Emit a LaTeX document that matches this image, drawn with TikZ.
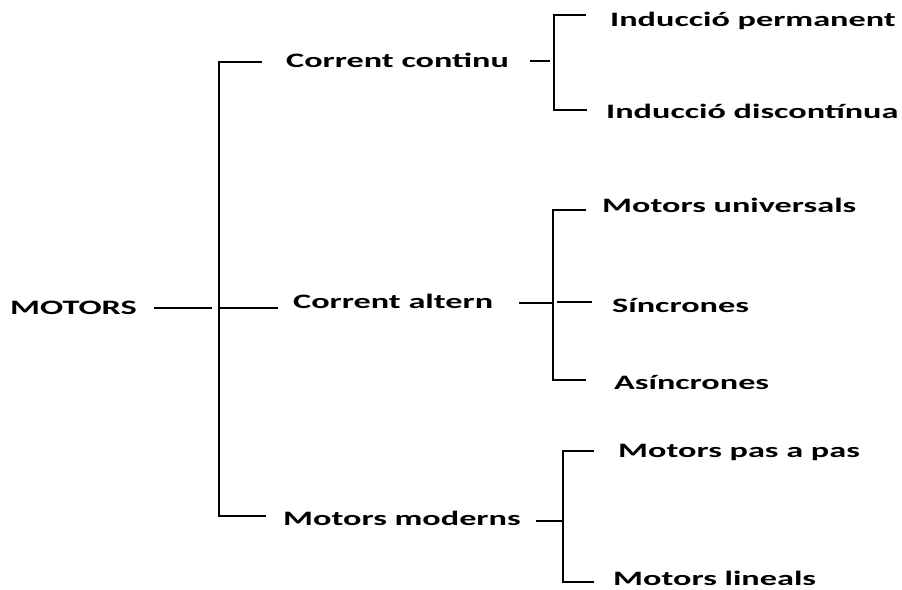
\documentclass[tikz,border=0pt]{standalone}
\usepackage{fontspec}
\newfontfamily\lblfont{Carlito}[FakeStretch=1.67]
\begin{document}
\begin{tikzpicture}[x=1pt,y=-1pt,
  lbl/.style={anchor=base west,inner sep=0pt,font=\lblfont\bfseries\fontsize{20.5}{24}\selectfont},
  conn/.style={line width=1.2pt,black}]
\useasboundingbox (0,0) rectangle (902,589);
% text nodes
\node[lbl] (motors) at (10,314) {MOTORS};
\node[lbl] (cc) at (286,67) {Corrent continu};
\node[lbl] (ip) at (610,26) {Inducció permanent};
\node[lbl] (id) at (606,118) {Inducció discontínua};
\node[lbl] (ca) at (293,308) {Corrent altern};
\node[lbl] (mu) at (602,212) {Motors universals};
\node[lbl] (si) at (612,312) {Síncrones};
\node[lbl] (as) at (614,389) {Asíncrones};
\node[lbl] (mm) at (283,525) {Motors moderns};
\node[lbl] (mp) at (618,457) {Motors pas a pas};
\node[lbl] (ml) at (613,585.5) {Motors lineals};
% connector points
\coordinate (m1) at (154,308); \coordinate (m2) at (212,308);
\coordinate (bt) at (219,62); \coordinate (bm) at (219,308); \coordinate (bb) at (219,516);
\coordinate (bte) at (262,62); \coordinate (bme) at (278,308); \coordinate (bbe) at (266,516);
\coordinate (cc1) at (530,61); \coordinate (cc2) at (550,61);
\coordinate (c1t) at (554,15); \coordinate (c1b) at (554,110);
\coordinate (c1te) at (586,15); \coordinate (c1be) at (587,110);
\coordinate (ca1) at (519,303); \coordinate (ca2) at (552,303);
\coordinate (c2t) at (553,210); \coordinate (c2b) at (553,380);
\coordinate (c2te) at (586,210); \coordinate (c2be) at (586,380);
\coordinate (c2ms) at (557,302); \coordinate (c2me) at (592,302);
\coordinate (cm1) at (536,521); \coordinate (cm2) at (563,521);
\coordinate (c3t) at (563,451); \coordinate (c3b) at (563,582);
\coordinate (c3te) at (594,451); \coordinate (c3be) at (594,582);
% lines
\draw[conn] (m1) -- (m2);
\draw[conn] (bte) -- (bt) -- (bb) -- (bbe);
\draw[conn] (bm) -- (bme);
\draw[conn] (cc1) -- (cc2);
\draw[conn] (c1te) -- (c1t) -- (c1b) -- (c1be);
\draw[conn] (ca1) -- (ca2);
\draw[conn] (c2te) -- (c2t) -- (c2b) -- (c2be);
\draw[conn] (c2ms) -- (c2me);
\draw[conn] (cm1) -- (cm2);
\draw[conn] (c3te) -- (c3t) -- (c3b) -- (c3be);
\end{tikzpicture}
\end{document}
